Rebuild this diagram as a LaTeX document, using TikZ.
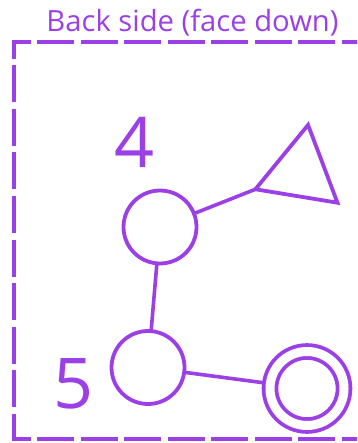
\documentclass[tikz,border=0pt]{standalone}
\usepackage{fontspec}
\setmainfont{Open Sans}
\usetikzlibrary{shapes.geometric}
\definecolor{cardpurple}{HTML}{9B40E6}

\begin{document}
\begin{tikzpicture}[x=1pt, y=-1pt,
  spotmk/.style={circle, draw=cardpurple, line width=3.8pt, minimum size=73pt, inner sep=0pt, outer sep=0pt},
  goalmk/.style={circle, draw=cardpurple, line width=3.8pt, double=white, double distance=9pt, minimum size=74pt, inner sep=0pt, outer sep=6.4pt},
  trimk/.style={regular polygon, regular polygon sides=3, draw=cardpurple, line width=3.8pt, minimum size=96pt, inner sep=0pt, outer sep=0pt, rotate=-9.3},
  linkln/.style={draw=cardpurple, line width=3.6pt},
  edgeln/.style={draw=cardpurple, line width=4pt, dash pattern=on 37pt off 6.5pt, dash phase=18.5pt},
  numlbl/.style={font=\fontsize{70}{70}\selectfont, text=cardpurple, anchor=base, inner sep=0pt},
]
\useasboundingbox (0,0) rectangle (357,443);
\clip (0,0) rectangle (357,443);

% Title over the card
\node[font=\fontsize{29.2}{29.2}\selectfont, text=cardpurple, anchor=base, inner sep=0pt] (title) at (192.5,32) {Back side (face down)};

% Dashed card outline (right side runs off the picture)
\draw[edgeln] (14,40.5) -- (14,441);
\draw[edgeln] (12,42.5) -- (380,42.5);
\draw[edgeln] (12,439) -- (380,439);

% Stops and end markers
\node[spotmk] (stop4) at (160,227) {};
\node[spotmk] (stop5) at (148,367.5) {};
\node[goalmk] (goal) at (307,388.5) {};
\node[trimk] (flag) at (300.3,172.3) {};
\node[numlbl] (lbl4) at (135,168) {4};
\node[numlbl] (lbl5) at (73.5,408) {5};

% Links
\draw[linkln] (stop4) -- (flag.corner 2);
\draw[linkln] (stop4) -- (stop5);
\draw[linkln] (stop5) -- (goal);
\end{tikzpicture}
\end{document}
